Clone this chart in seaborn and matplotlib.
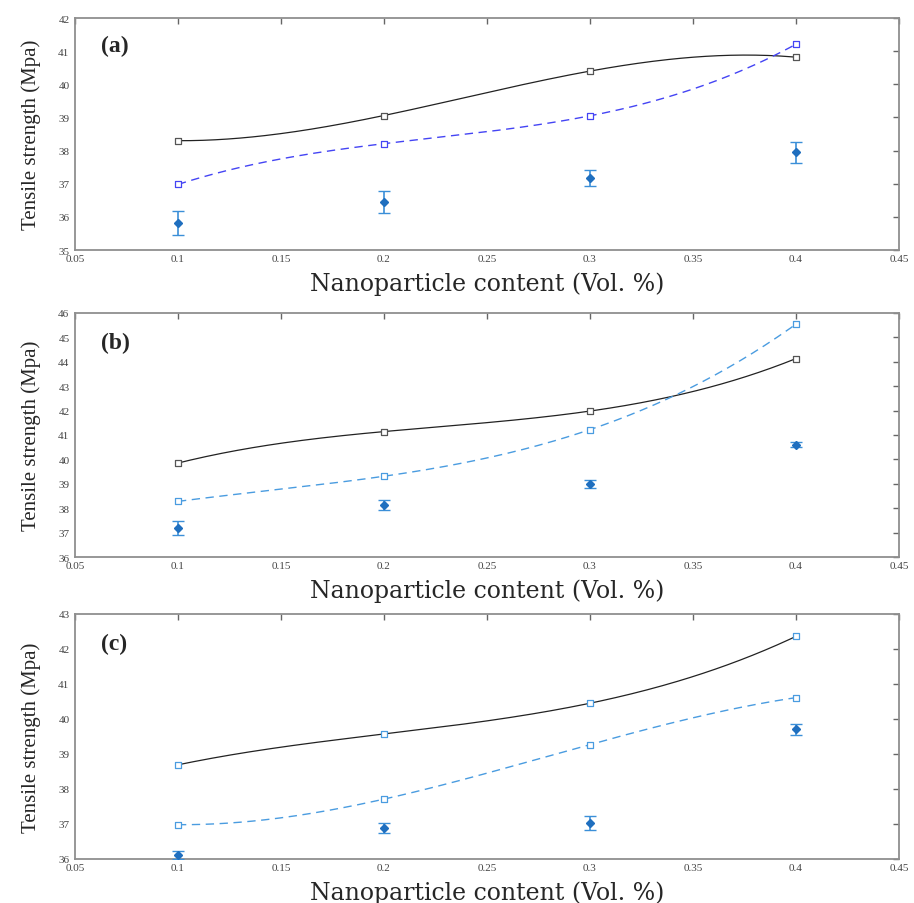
import numpy as np
import matplotlib
matplotlib.use("Agg")
import matplotlib.pyplot as plt
from matplotlib.ticker import FuncFormatter, MultipleLocator
import seaborn as sns

# nanoparticle content (vol. %)
x_content = [0.1, 0.2, 0.3, 0.4]

# panel (a)
a_solid = [38.30, 39.06, 40.40, 40.82]
a_dashed = [36.98, 38.21, 39.05, 41.21]
a_mean = [35.82, 36.46, 37.17, 37.95]
a_err = [0.36, 0.33, 0.25, 0.32]

# panel (b)
b_solid = [39.85, 41.14, 41.98, 44.13]
b_dashed = [38.28, 39.31, 41.22, 45.54]
b_mean = [37.19, 38.13, 38.99, 40.61]
b_err = [0.30, 0.21, 0.18, 0.10]

# panel (c)
c_solid = [38.69, 39.57, 40.45, 42.36]
c_dashed = [36.98, 37.71, 39.27, 40.61]
c_mean = [36.11, 36.89, 37.02, 39.71]
c_err = [0.12, 0.14, 0.20, 0.16]

panel_labels = ["(a)", "(b)", "(c)"]
y_limits = [(35, 42), (36, 46), (36, 43)]
x_ticks = [0.05, 0.1, 0.15, 0.2, 0.25, 0.3, 0.35, 0.4, 0.45]

sns.set_style("white")
plt.rcParams["font.family"] = ["Liberation Serif", "DejaVu Serif"]

fig = plt.figure(figsize=(9.14, 9.04), dpi=100)
positions = [
    [0.082, 0.7223, 0.9015, 0.2566],
    [0.082, 0.3827, 0.9015, 0.2700],
    [0.082, 0.0487, 0.9015, 0.2710],
]

panels = [
    (a_solid, a_dashed, a_mean, a_err, "#4444f4", "#555555", "#4444f4"),
    (b_solid, b_dashed, b_mean, b_err, "#4a9ce0", "#555555", "#4a9ce0"),
    (c_solid, c_dashed, c_mean, c_err, "#4a9ce0", "#4a9ce0", "#4a9ce0"),
]

x_fine = np.linspace(min(x_content), max(x_content), 200)

for i, (solid, dashed, mean, err, dash_col, solid_mk, dash_mk) in enumerate(panels):
    ax = fig.add_axes(positions[i])

    # smooth cubic curves through the measured points
    solid_fit = np.polyval(np.polyfit(x_content, solid, 3), x_fine)
    dashed_fit = np.polyval(np.polyfit(x_content, dashed, 3), x_fine)
    sns.lineplot(x=x_fine, y=solid_fit, ax=ax, color="#222222", lw=0.9,
                 sort=False, estimator=None)
    sns.lineplot(x=x_fine, y=dashed_fit, ax=ax, color=dash_col, lw=1.0,
                 sort=False, estimator=None, linestyle=(0, (6, 4)))
    sns.scatterplot(x=x_content, y=solid, ax=ax, marker="s", s=16,
                    facecolor="white", edgecolor=solid_mk, linewidth=0.9, zorder=3)
    sns.scatterplot(x=x_content, y=dashed, ax=ax, marker="s", s=16,
                    facecolor="white", edgecolor=dash_mk, linewidth=0.9, zorder=3)

    ax.errorbar(x_content, mean, yerr=err, fmt="D", ms=4.5, color="#1f6fbf",
                ecolor="#3b8fd8", elinewidth=1.2, capsize=4, capthick=1.0, zorder=4)

    ax.set_xlim(0.05, 0.45)
    ax.set_ylim(*y_limits[i])
    ax.set_xticks(x_ticks)
    ax.yaxis.set_major_locator(MultipleLocator(1))
    ax.xaxis.set_major_formatter(FuncFormatter(lambda v, p: "%g" % round(v, 2)))
    ax.tick_params(direction="in", length=4, width=1.0, color="#666666",
                   top=True, right=True, labelsize=8, labelcolor="#444444")
    ax.tick_params(axis="x", pad=3)
    ax.tick_params(axis="y", pad=4)
    for sp in ax.spines.values():
        sp.set_color("#8f8f8f")
        sp.set_linewidth(1.3)

    ax.set_ylabel("Tensile strength (Mpa)", fontsize=15, labelpad=12)
    ax.set_xlabel("Nanoparticle content (Vol. %)", fontsize=17,
                  family="DejaVu Serif", labelpad=6)
    ax.text(0.032, 0.88, panel_labels[i], transform=ax.transAxes,
            fontsize=17, fontweight="bold", va="center", ha="left")

fig.savefig("out.png", dpi=100)
